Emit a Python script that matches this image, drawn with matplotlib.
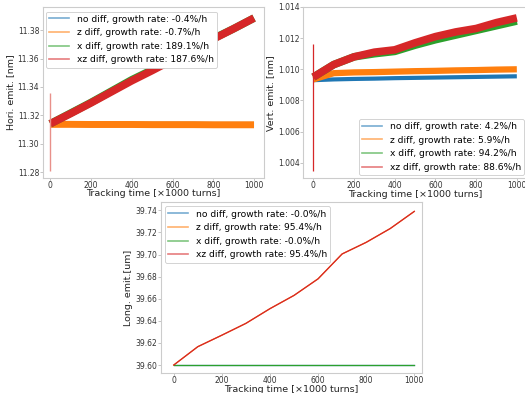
import matplotlib
matplotlib.use("Agg")
import matplotlib.pyplot as plt
from matplotlib.lines import Line2D

# ---------------- data ----------------
t = [0, 100, 200, 300, 400, 500, 600, 700, 800, 900, 1000]   # x1000 turns
xticks = [0, 200, 400, 600, 800, 1000]

# Horizontal emittance [nm]
h_no = [11.3138, 11.3139, 11.3138, 11.3138, 11.3137, 11.3137, 11.3137, 11.3137, 11.3136, 11.3136, 11.3136]
h_z = [11.3136, 11.3136, 11.3135, 11.3135, 11.3135, 11.3134, 11.3134, 11.3134, 11.3133, 11.3133, 11.3133]
h_x = [11.3140, 11.3215, 11.3290, 11.3370, 11.3450, 11.3520, 11.3595, 11.3665, 11.3740, 11.3810, 11.3885]
h_xz = [11.3140, 11.3212, 11.3287, 11.3365, 11.3443, 11.3515, 11.3590, 11.3662, 11.3737, 11.3810, 11.3885]
h_spike = [11.281, 11.336]
h_labels = ["no diff, growth rate: -0.4%/h", "z diff, growth rate: -0.7%/h",
            "x diff, growth rate: 189.1%/h", "xz diff, growth rate: 187.6%/h"]
h_yticks = [11.28, 11.30, 11.32, 11.34, 11.36, 11.38]

# Vertical emittance [nm]
v_no = [1.00930, 1.00935, 1.00938, 1.00940, 1.00943, 1.00945, 1.00947, 1.00949, 1.00951, 1.00953, 1.00955]
v_z = [1.00935, 1.00975, 1.00980, 1.00982, 1.00985, 1.00988, 1.00990, 1.00993, 1.00995, 1.00998, 1.01000]
v_x = [1.00950, 1.01030, 1.01080, 1.01100, 1.01115, 1.01155, 1.01190, 1.01220, 1.01250, 1.01280, 1.01310]
v_xz = [1.00950, 1.01030, 1.01080, 1.01110, 1.01125, 1.01170, 1.01210, 1.01240, 1.01262, 1.01300, 1.01330]
v_spike = [1.0035, 1.0116]
v_labels = ["no diff, growth rate: 4.2%/h", "z diff, growth rate: 5.9%/h",
            "x diff, growth rate: 94.2%/h", "xz diff, growth rate: 88.6%/h"]
v_yticks = [1.004, 1.006, 1.008, 1.010, 1.012, 1.014]

# Longitudinal emittance [um]
l_no = [39.600] * 11
l_z = [39.600, 39.6166, 39.6270, 39.6377, 39.6510, 39.6630, 39.6780, 39.7005, 39.7110, 39.7235, 39.7390]
l_x = [39.600] * 11
l_xz = [39.600, 39.6166, 39.6270, 39.6377, 39.6510, 39.6630, 39.6780, 39.7005, 39.7110, 39.7235, 39.7390]
l_labels = ["no diff, growth rate: -0.0%/h", "z diff, growth rate: 95.4%/h",
            "x diff, growth rate: -0.0%/h", "xz diff, growth rate: 95.4%/h"]
l_yticks = [39.60, 39.62, 39.64, 39.66, 39.68, 39.70, 39.72, 39.74]

colors = ["#1f77b4", "#ff7f0e", "#2ca02c", "#d62728"]

# ---------------- figure ----------------
W, H = 525, 393
fig = plt.figure(figsize=(W / 100, H / 100), dpi=100)


def ax_px(l, t_, r, b):
    return fig.add_axes([l / W, 1 - b / H, (r - l) / W, (b - t_) / H])


def style(ax):
    for s in ax.spines.values():
        s.set_color("#cccccc")
        s.set_linewidth(0.8)
    ax.tick_params(labelsize=5.5, labelcolor="#333333", length=2.0, width=0.6,
                   color="#bbbbbb", pad=0.3)
    ax.set_xticks(xticks)
    ax.set_xlabel("Tracking time [×1000 turns]", fontsize=6.8, color="#222222", labelpad=-0.5)


def legend(ax, labels, loc, anchor):
    hs = [Line2D([0], [0], color=c, lw=1.2, alpha=0.6) for c in colors]
    lg = ax.legend(hs, labels, loc=loc, bbox_to_anchor=anchor, bbox_transform=fig.transFigure,
                   fontsize=6.6, frameon=True, fancybox=True,
                   edgecolor="#cccccc", framealpha=1.0, handlelength=2.2,
                   borderpad=0.35, labelspacing=0.5, handletextpad=0.8, borderaxespad=0.0)
    lg.get_frame().set_linewidth(0.6)


# Top-left: horizontal
ax1 = ax_px(42.5, 6.7, 264, 178)
for y, c, lw in zip([h_no, h_z, h_x, h_xz], colors, [3.5, 5.0, 5.5, 5.5]):
    ax1.plot(t, y, color=c, lw=lw, solid_capstyle="butt", solid_joinstyle="round")
ax1.vlines(t[0], h_spike[0], h_spike[1], color="#e8908a", lw=1.0)
ax1.set_xlim(-38, 1049)
ax1.set_ylim(11.2758, 11.3965)
ax1.set_yticks(h_yticks)
ax1.set_yticklabels([f"{v:.2f}" for v in h_yticks])
ax1.set_ylabel("Hori. emit. [nm]", fontsize=6.8, color="#222222", labelpad=2)
style(ax1)
legend(ax1, h_labels, "upper left", (46 / W, 1 - 11.5 / H))

# Top-right: vertical
ax2 = ax_px(303, 7, 527, 178.3)
for y, c, lw in zip([v_no, v_z, v_x, v_xz], colors, [3.0, 4.5, 5.5, 5.5]):
    ax2.plot(t, y, color=c, lw=lw, solid_capstyle="butt", solid_joinstyle="round")
ax2.vlines(t[0], v_spike[0], v_spike[1], color="#d62728", lw=0.9)
ax2.set_xlim(-51, 1050)
ax2.set_ylim(1.003, 1.014)
ax2.set_yticks(v_yticks)
ax2.set_yticklabels([f"{v:.3f}" for v in v_yticks])
ax2.set_ylabel("Vert. emit. [nm]", fontsize=6.8, color="#222222", labelpad=2)
style(ax2)
legend(ax2, v_labels, "lower right", (524 / W, 1 - 175 / H))

# Bottom: longitudinal
ax3 = ax_px(160.5, 202, 422, 373)
for y, c in zip([l_no, l_z, l_x, l_xz], colors):
    ax3.plot(t, y, color=c, lw=0.9)
ax3.set_xlim(-55, 1032)
ax3.set_ylim(39.5928, 39.7475)
ax3.set_yticks(l_yticks)
ax3.set_yticklabels([f"{v:.2f}" for v in l_yticks])
ax3.set_ylabel("Long. emit.[um]", fontsize=6.8, color="#222222", labelpad=2)
style(ax3)
legend(ax3, l_labels, "upper left", (165 / W, 1 - 206.5 / H))

fig.savefig("out.png", dpi=100)
